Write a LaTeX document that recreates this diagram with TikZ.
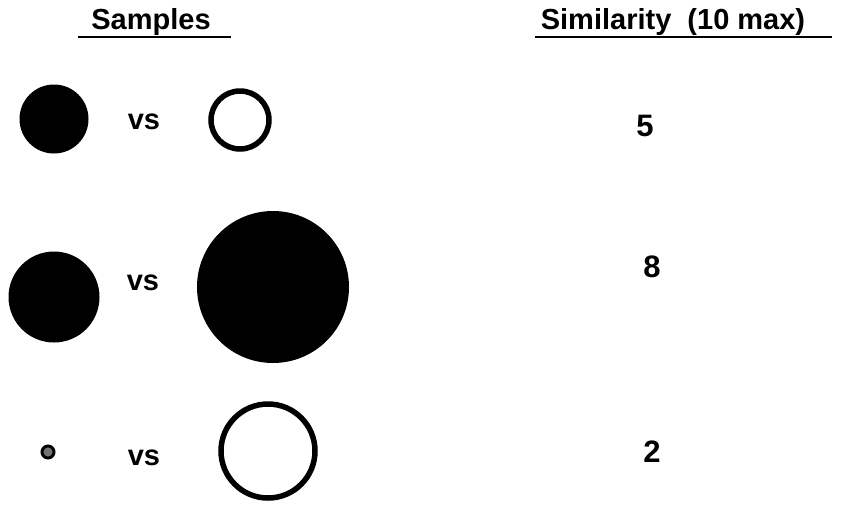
\documentclass[tikz,border=0pt]{standalone}
\usepackage{fontspec}
\setmainfont{Liberation Sans}
\usetikzlibrary{positioning}
\tikzset{
  headlabel/.style={font=\fontsize{29}{32}\selectfont\bfseries,anchor=base,inner sep=0pt},
  vslabel/.style={font=\fontsize{29}{32}\selectfont\bfseries,inner sep=0pt},
  scorelabel/.style={font=\fontsize{31}{34}\selectfont\bfseries,inner sep=0pt},
  solidspot/.style={circle,fill=black,draw=none,inner sep=0pt},
  ringspot/.style={circle,draw=black,line width=5.5pt,fill=white,inner sep=0pt},
  headrule/.style={line width=2.5pt}
}
\begin{document}
\begin{tikzpicture}[x=1pt,y=-1pt]
  \useasboundingbox (0,0) rectangle (846,504);
  % headings
  \node[headlabel] (samples) at (151,29) {Samples};
  \node[headlabel] (simil) at (673,29) {Similarity\ \ (10 max)};
  \coordinate (sampL) at (78,37);
  \coordinate (sampR) at (231,37);
  \coordinate (simL) at (535,37);
  \coordinate (simR) at (832,37);
  \draw[headrule] (sampL) -- (sampR);
  \draw[headrule] (simL) -- (simR);
  % first pair
  \node[solidspot,minimum size=69pt] (leftA) at (54,119) {};
  \node[vslabel] (vsA) at (144,122) {vs};
  \node[ringspot,minimum size=58pt] (rightA) at (240,120) {};
  \node[scorelabel] (scoreA) at (645,126) {5};
  % second pair
  \node[solidspot,minimum size=91pt] (leftB) at (54,297) {};
  \node[vslabel] (vsB) at (143,283) {vs};
  \node[solidspot,minimum size=152pt] (rightB) at (273,287) {};
  \node[scorelabel] (scoreB) at (652,267) {8};
  % third pair
  \node[solidspot,minimum size=12pt,fill=black!55,draw=black,line width=3pt] (leftC) at (48,452) {};
  \node[vslabel] (vsC) at (144,458) {vs};
  \node[ringspot,minimum size=94pt] (rightC) at (268,451) {};
  \node[scorelabel] (scoreC) at (652,452) {2};
\end{tikzpicture}
\end{document}
